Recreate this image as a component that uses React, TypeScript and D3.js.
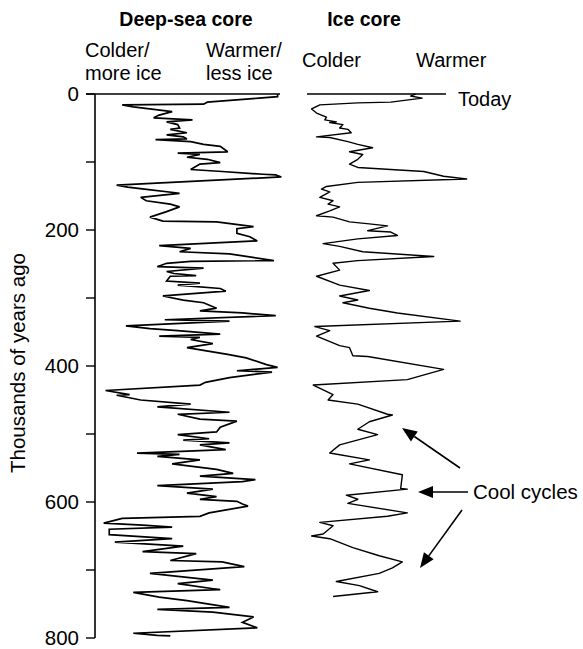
import React from "react";
import * as d3 from "d3";

// Deep-sea core: age (thousands of years ago) and relative warmth index (0 = colder/more ice, 100 = warmer/less ice)
const deepSeaAge = [0,4,6,12,15,16,19,26,31,35,38,41,45,50,52,57,60,63,66,67,70,74,77,85,87,89,93,96,101,103,111,114,118,119,122,134,137,140,146,152,157,162,166,173,181,187,188,195,198,205,210,216,223,227,232,235,245,246,249,254,256,261,264,267,268,275,278,281,286,290,297,303,307,315,319,322,326,332,334,341,345,348,353,356,358,361,367,373,383,388,398,402,407,409,417,424,428,436,442,443,450,456,460,468,471,478,481,490,497,501,507,509,513,516,523,528,530,533,538,544,552,558,562,567,570,576,581,587,592,596,599,603,606,616,621,624,631,634,637,640,648,654,659,665,673,676,686,688,695,705,715,720,729,733,740,745,755,758,762,769,777,785,793,796,797];
const deepSeaValue = [96,96,86,58,56,12,18,39,32,29,50,36,42,43,38,47,36,45,47,30,49,56,65,69,42,54,47,58,65,54,49,66,88,95,98,9,15,24,43,22,25,38,43,36,27,34,63,83,74,74,81,85,32,49,43,70,94,49,36,31,56,36,40,52,38,36,54,42,65,68,34,45,56,63,54,77,95,35,70,14,27,42,65,32,54,49,61,47,69,79,90,96,74,93,70,57,54,3,16,9,22,49,31,70,42,54,74,65,63,42,59,45,70,54,68,20,43,31,54,39,63,72,54,84,77,31,61,47,63,54,74,77,80,59,54,12,2,23,39,5,5,39,8,45,23,52,38,66,78,27,61,42,65,18,32,47,70,31,61,83,77,85,18,31,38];

// Ice core: age and relative temperature index (0 = colder, 100 = warmer)
const iceAge = [0,3,6,12,13,16,22,28,34,38,41,42,45,50,52,57,63,64,70,74,79,85,89,96,103,108,111,114,121,125,130,136,140,144,152,157,162,166,172,179,181,188,191,194,201,203,208,213,220,224,232,239,245,249,259,268,281,289,297,303,307,315,322,334,342,348,356,370,373,385,386,405,420,428,442,450,456,471,472,482,493,501,516,528,538,544,560,580,581,590,596,602,616,621,630,635,647,650,654,667,679,688,697,705,717,723,732,739];
const iceValue = [67,64,71,52,32,9,4,7,13,12,19,15,23,21,26,28,7,15,26,32,41,27,35,32,27,32,52,72,84,98,32,13,10,15,9,17,14,21,15,7,17,27,39,50,38,52,56,32,11,21,35,78,32,17,21,7,21,39,21,32,23,39,56,94,6,15,7,21,27,29,38,84,62,5,17,14,32,50,53,39,32,44,21,15,39,27,59,58,62,25,32,26,62,50,9,17,11,4,15,29,45,59,53,45,19,33,44,17];

const ageTicks = [0,100,200,300,400,500,600,700,800];
const ageLabels = ["0","","200","","400","","600","","800"];

const FONT = "'Liberation Sans', Arial, Helvetica, sans-serif";

export default function App() {
  const y = d3.scaleLinear().domain([0, 800]).range([94, 638]);
  const xDeep = d3.scaleLinear().domain([0, 100]).range([100, 285]);
  const xIce = d3.scaleLinear().domain([0, 100]).range([305, 470]);

  const deepData = deepSeaAge.map((a, i) => [a, deepSeaValue[i]] as [number, number]);
  const iceData = iceAge.map((a, i) => [a, iceValue[i]] as [number, number]);

  const deepLine = d3.line<[number, number]>().x(d => xDeep(d[1])).y(d => y(d[0]));
  const iceLine = d3.line<[number, number]>().x(d => xIce(d[1])).y(d => y(d[0]));

  const axisX = 95;

  const arrow = (x1: number, y1: number, x2: number, y2: number, key: string) => {
    const ang = Math.atan2(y2 - y1, x2 - x1);
    const len = 15, w = 6;
    const bx = x2 - len * Math.cos(ang), by = y2 - len * Math.sin(ang);
    const px = -Math.sin(ang) * w, py = Math.cos(ang) * w;
    return (
      <g key={key}>
        <line x1={x1} y1={y1} x2={bx} y2={by} stroke="#000" strokeWidth={1.6} />
        <polygon points={`${x2},${y2} ${bx + px},${by + py} ${bx - px},${by - py}`} fill="#000" />
      </g>
    );
  };

  return (
    <svg width={583} height={649} style={{ position: "absolute", left: 0, top: 0, background: "#fff" }} fontFamily={FONT}>
      {/* headings */}
      <text x={186} y={26} textAnchor="middle" fontWeight="bold" fontSize={19.5}>Deep-sea core</text>
      <text x={364} y={26} textAnchor="middle" fontWeight="bold" fontSize={19.5}>Ice core</text>
      <text x={85} y={57} fontSize={20}>Colder/</text>
      <text x={85} y={80} fontSize={20}>more ice</text>
      <text x={206} y={57} fontSize={20}>Warmer/</text>
      <text x={206} y={80} fontSize={20}>less ice</text>
      <text x={302} y={67} fontSize={20}>Colder</text>
      <text x={416} y={67} fontSize={20}>Warmer</text>
      <text x={458} y={106} fontSize={20}>Today</text>

      {/* axis */}
      <line x1={axisX} y1={y(0)} x2={axisX} y2={y(800)} stroke="#000" strokeWidth={1.6} />
      {ageTicks.map((t, i) => (
        <g key={t}>
          <line x1={86} x2={axisX} y1={y(t)} y2={y(t)} stroke="#000" strokeWidth={1.4} />
          {ageLabels[i] && (
            <text x={79} y={y(t)} dy="0.35em" textAnchor="end" fontSize={20.5}>{ageLabels[i]}</text>
          )}
        </g>
      ))}
      <text transform={`translate(25,${(y(0) + y(800)) / 2 - 3}) rotate(-90)`} textAnchor="middle" fontSize={20.5}>Thousands of years ago</text>

      {/* today lines */}
      <line x1={86} x2={280} y1={y(0)} y2={y(0)} stroke="#000" strokeWidth={1.6} />
      <line x1={307} x2={446} y1={y(0)} y2={y(0)} stroke="#000" strokeWidth={1.6} />

      {/* curves */}
      <path d={deepLine(deepData) || ""} fill="none" stroke="#000" strokeWidth={1.7} strokeLinejoin="miter" strokeMiterlimit={3} />
      <path d={iceLine(iceData) || ""} fill="none" stroke="#000" strokeWidth={1.4} strokeLinejoin="round" />

      {/* annotation */}
      {arrow(460, 468, 402, 428, "a1")}
      {arrow(468, 492, 418, 492, "a2")}
      {arrow(462, 510, 420, 568, "a3")}
      <text x={473} y={499} fontSize={20.5}>Cool cycles</text>
    </svg>
  );
}
